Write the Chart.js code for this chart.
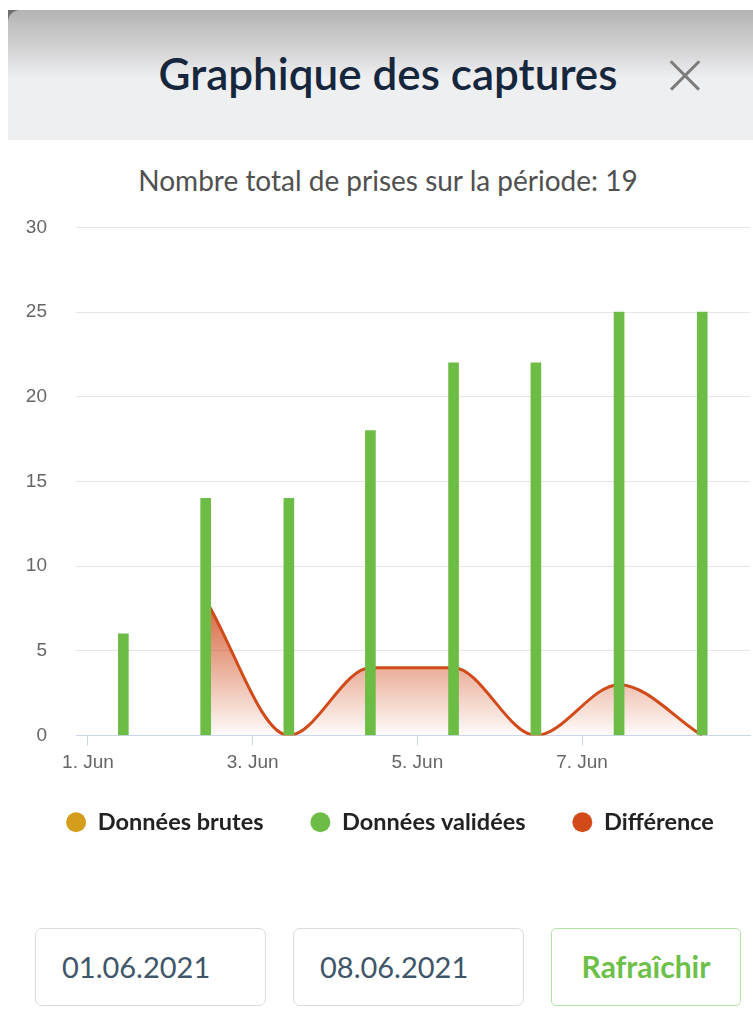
<!DOCTYPE html>
<html lang="fr">
<head>
<meta charset="utf-8">
<title>Graphique des captures</title>
<script src="https://cdn.jsdelivr.net/npm/chart.js@4/dist/chart.umd.min.js"></script>
<style>
    html, body { margin: 0; padding: 0; background: #fff; width: 753px; height: 1031px; overflow: hidden; font-family: Lato, "Open Sans", sans-serif; }
    .corner { position: absolute; left: 8px; top: 10px; width: 14px; height: 14px; background: #707070; }
    .header { position: absolute; left: 8px; top: 10px; width: 760px; height: 130px; border-top-left-radius: 12px;
        background: linear-gradient(to bottom, #b3b3b3 0px, #d4d4d5 40px, #eeeff1 68px, #eeeff1 130px); }
    .header h1 { margin: 0; position: absolute; left: 0; width: 760px; top: 37px; text-align: center;
        font-size: 44px; font-weight: 600; color: #16273d; line-height: 52px; }
    .close { position: absolute; left: 662px; top: 50px; width: 30px; height: 30px; }
    .close:before, .close:after { content: ""; position: absolute; left: -5px; top: 14px; width: 40px; height: 2.5px; background: #7c7c7c; }
    .close:before { transform: rotate(45deg); }
    .close:after { transform: rotate(-45deg); }
    .subtitle { position: absolute; left: 8px; width: 760px; top: 163px; text-align: center; font-size: 28px; color: #505050; line-height: 34px; }
    .chart-box { position: absolute; left: 8px; top: 187px; width: 764px; height: 657px; }
    .field { position: absolute; top: 928px; height: 78px; box-sizing: border-box; border: 1.5px solid #dadada; border-radius: 7px;
        font-size: 29px; line-height: 75px; color: #3f5569; padding-left: 26px; }
    .btn { position: absolute; left: 551px; top: 928px; width: 190px; height: 78px; box-sizing: border-box; border: 1.5px solid #b3e2a4;
        border-radius: 5px; text-align: center; font-size: 30px; font-weight: 700; line-height: 75px; color: #6cc04a; }
</style>
</head>
<body>
<div class="corner"></div>
<div class="header">
    <h1>Graphique des captures</h1>
    <div class="close"></div>
</div>
<div class="subtitle">Nombre total de prises sur la période: 19</div>
<div class="chart-box"><canvas id="captureChart"></canvas></div>
<div class="field" style="left:35px;width:231px;">01.06.2021</div>
<div class="field" style="left:293px;width:231px;">08.06.2021</div>
<div class="btn">Rafraîchir</div>

<script>
// jours de juin où tombent les colonnes
const captureDays = [1.43, 2.43, 3.44, 4.43, 5.44, 6.44, 7.45, 8.46];
const rawData = [];
const validatedData = [6, 14, 14, 18, 22, 22, 25, 25];
const differenceData = [null, 8, 0, 4, 4, 0, 3, 0];

const seriesNames = ["Données brutes", "Données validées", "Différence"];
const tickDays = [1, 3, 5, 7];
const tickLabels = ["1. Jun", "3. Jun", "5. Jun", "7. Jun"];
const yTicks = [0, 5, 10, 15, 20, 25, 30];

function toPoints(values) {
    return values.map(function (v, i) { return { x: captureDays[i], y: v }; });
}

function diffFill(context) {
    const chart = context.chart;
    const area = chart.chartArea;
    if (!area) {
        return "rgba(210, 75, 27, 0.4)";
    }
    const top = chart.scales.y.getPixelForValue(8);
    const grad = chart.ctx.createLinearGradient(0, top, 0, area.bottom);
    grad.addColorStop(0, "rgba(210, 80, 35, 0.9)");
    grad.addColorStop(1, "rgba(210, 80, 35, 0.02)");
    return grad;
}

const canvas = document.getElementById("captureChart");
new Chart(canvas.getContext("2d"), {
    type: "bar",
    data: {
        datasets: [
            {
                label: seriesNames[0],
                data: toPoints(rawData),
                backgroundColor: "#d49d1c",
                barThickness: 10,
                grouped: false,
                order: 0,
            },
            {
                label: seriesNames[1],
                data: toPoints(validatedData),
                backgroundColor: "#6cbc45",
                barThickness: 10,
                grouped: false,
                order: 1,
            },
            {
                type: "line",
                label: seriesNames[2],
                data: toPoints(differenceData),
                borderColor: "#d14b1a",
                borderWidth: 3,
                backgroundColor: diffFill,
                fill: "origin",
                cubicInterpolationMode: "monotone",
                pointRadius: 0,
                pointBackgroundColor: "#d14b1a",
                pointBorderColor: "#d14b1a",
                pointBorderWidth: 0,
                spanGaps: false,
                order: 2,
            },
        ],
    },
    options: {
        responsive: true,
        maintainAspectRatio: false,
        animation: false,
        layout: {
            padding: 0,
        },
        scales: {
            x: {
                type: "linear",
                min: 0.855,
                max: 9.04,
                offset: false,
                afterBuildTicks: function (scale) {
                    scale.ticks = tickDays.map(function (d) { return { value: d }; });
                },
                afterFit: function (scale) {
                    scale.height = 40;
                },
                ticks: {
                    autoSkip: false,
                    maxRotation: 0,
                    padding: 6,
                    color: "#666666",
                    font: { family: "'Liberation Sans', Arial, sans-serif", size: 19 },
                    callback: function (value, index) {
                        return tickLabels[index];
                    },
                },
                grid: {
                    offset: false,
                    drawOnChartArea: false,
                    drawTicks: true,
                    tickLength: 10,
                    color: "#ccd6eb",
                },
                border: { display: true, color: "#ccd6eb", width: 1 },
            },
            y: {
                min: 0,
                max: 30,
                afterBuildTicks: function (scale) {
                    scale.ticks = yTicks.map(function (v) { return { value: v }; });
                },
                afterFit: function (scale) {
                    scale.width = 68;
                },
                ticks: {
                    padding: 29,
                    color: "#666666",
                    font: { family: "'Liberation Sans', Arial, sans-serif", size: 19 },
                },
                grid: {
                    color: "#e6e6e6",
                    drawTicks: false,
                },
                border: { display: false },
            },
            // marge vide à droite du tracé
            yRight: {
                position: "right",
                display: true,
                min: 0,
                max: 30,
                afterFit: function (scale) {
                    scale.width = 22;
                },
                ticks: { display: false },
                grid: { display: false },
                border: { display: false },
            },
        },
        plugins: {
            legend: {
                display: true,
                position: "bottom",
                labels: {
                    usePointStyle: true,
                    pointStyle: "circle",
                    pointStyleWidth: 20,
                    boxHeight: 14,
                    color: "#222222",
                    padding: 35,
                    font: { family: "Lato", size: 23.5, weight: "bold" },
                    generateLabels: function (chart) {
                        const items = Chart.defaults.plugins.legend.labels.generateLabels(chart);
                        items.forEach(function (item, i) {
                            if (i < items.length - 1) {
                                item.text = item.text + "\u2002";
                            }
                        });
                        return items;
                    },
                },
            },
            tooltip: { enabled: false },
        },
    },
});
</script>
</body>
</html>
